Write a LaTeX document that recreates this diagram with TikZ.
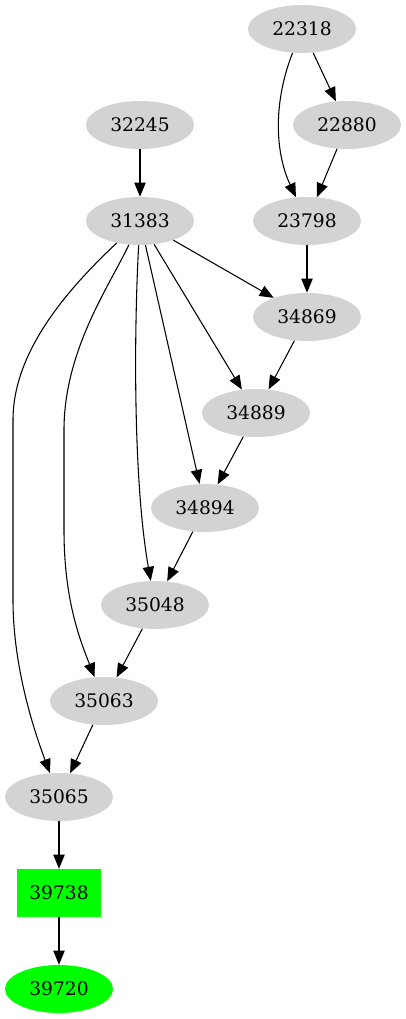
\documentclass[tikz,border=0pt]{standalone}
\usepackage{fontspec}
\setmainfont{DejaVu Serif}
\usetikzlibrary{arrows.meta,shapes.geometric}
\definecolor{jobgray}{RGB}{211,211,211}
\definecolor{endgreen}{RGB}{0,255,0}

\begin{document}
\begin{tikzpicture}[x=0.75pt,y=-0.75pt,
    job/.style={ellipse,fill=jobgray,minimum width=81pt,minimum height=36pt,inner sep=0pt,font=\fontsize{14}{16}\selectfont},
    sink/.style={job,fill=endgreen},
    gate/.style={rectangle,fill=endgreen,minimum width=63pt,minimum height=36pt,inner sep=0pt,font=\fontsize{14}{16}\selectfont},
    dep/.style={-{Triangle[length=10.5pt,width=8.5pt]},line width=0.8pt}]
    \useasboundingbox (0,0) rectangle (406,1019);
    % jobs
    \node[job] (n22318) at (302,29){22318};
    \node[job] (n22880) at (347,125){22880};
    \node[job] (n32245) at (140,125){32245};
    \node[job] (n31383) at (140,221){31383};
    \node[job] (n23798) at (307,221){23798};
    \node[job] (n34869) at (307,317){34869};
    \node[job] (n34889) at (256,413){34889};
    \node[job] (n34894) at (205,508){34894};
    \node[job] (n35048) at (155,605){35048};
    \node[job] (n35063) at (104,701){35063};
    \node[job] (n35065) at (59,797){35065};
    \node[gate] (n39738) at (59,893){39738};
    \node[sink] (n39720) at (59,989){39720};
    % straight dependencies
    \foreach \a/\b in {22318/22880,22880/23798,32245/31383,23798/34869,31383/34869,
                       31383/34889,34869/34889,31383/34894,34889/34894,34894/35048,
                       35048/35063,35063/35065,35065/39738,39738/39720}
      \draw[dep] (n\a) -- (n\b);
    % curved dependencies
    \draw[dep] (n22318) .. controls (274,100) and (274,150) .. (n23798);
    \draw[dep] (n31383) .. controls (134,330) and (133,480) .. (n35048);
    \draw[dep] (n31383) .. controls (110,285) and (64,350) .. (64,430)
      -- (64,530) .. controls (64,600) and (80,640) .. (n35063);
    \draw[dep] (n31383) .. controls (70,287) and (13,350) .. (13,420)
      -- (13,600) .. controls (13,660) and (30,720) .. (n35065);
  \end{tikzpicture}
\end{document}
